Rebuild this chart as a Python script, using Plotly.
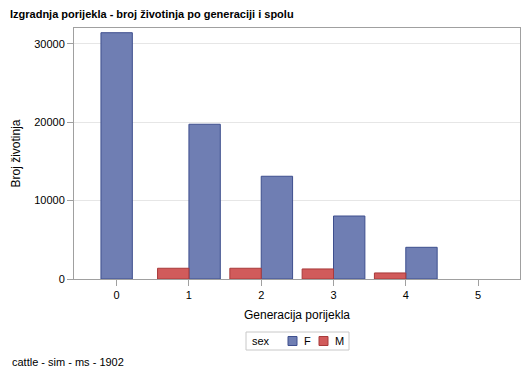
import plotly.graph_objects as go

generations = [0, 1, 2, 3, 4, 5]
female = [31400, 19730, 13100, 8030, 4040, None]
male = [None, 1370, 1370, 1280, 770, None]
sex_labels = ["F", "M"]

BAR_W = 0.434
F_FILL, F_EDGE = "#6F7EB3", "#3E4F8E"
M_FILL, M_EDGE = "#D15B5B", "#A83A3A"

# the page body has an 8px default margin; compensate so the picture lines up
OFF = 8
W, H = 529 - OFF, 378 - OFF
ML, MR, MT, MB = 74 - OFF, 9, 28 - OFF, 99
PW, PH = W - ML - MR, H - MT - MB


def px(x):  # window pixel -> paper fraction
    return (x - OFF - ML) / PW


def py(y):
    return (H - MB - (y - OFF)) / PH


def has(v):
    return v is not None


# cluster placement: M left, F right; if only one present it is centred
f_x, f_y, m_x, m_y = [], [], [], []
for g, f, m in zip(generations, female, male):
    both = has(f) and has(m)
    if has(f):
        f_x.append(g + (BAR_W / 2 if both else 0))
        f_y.append(f)
    if has(m):
        m_x.append(g - (BAR_W / 2 if both else 0))
        m_y.append(m)

fig = go.Figure()
fig.add_trace(go.Bar(x=f_x, y=f_y, name=sex_labels[0], width=BAR_W,
                     marker=dict(color=F_FILL, line=dict(color=F_EDGE, width=1))))
fig.add_trace(go.Bar(x=m_x, y=m_y, name=sex_labels[1], width=BAR_W,
                     marker=dict(color=M_FILL, line=dict(color=M_EDGE, width=1))))

axis_col = "#A0A0A0"
fig.update_layout(
    width=W, height=H,
    margin=dict(l=ML, r=MR, t=MT, b=MB, autoexpand=False),
    paper_bgcolor="white", plot_bgcolor="white",
    font=dict(family="Arial, Liberation Sans, sans-serif", size=11, color="#000"),
    barmode="overlay",
    showlegend=False,
    title=dict(text="<b>Izgradnja porijekla - broj životinja po generaciji i spolu</b>",
               xref="container", x=(10 - OFF) / W, xanchor="left",
               yref="container", y=1 - (14 - OFF) / H, yanchor="middle",
               font=dict(size=11, color="#000")),
    xaxis=dict(range=[-0.59, 5.58], tickmode="array", tickvals=generations,
               ticktext=[str(g) for g in generations],
               showgrid=False, zeroline=False,
               showline=True, linecolor=axis_col, linewidth=1, mirror=True,
               ticks="outside", ticklen=6, tickcolor=axis_col,
               title=dict(text="Generacija porijekla", standoff=10, font=dict(size=12))),
    yaxis=dict(range=[0, 32000], tickvals=[0, 10000, 20000, 30000],
               ticktext=["0", "10000", "20000", "30000"],
               showgrid=True, gridcolor="#E6E6E6", zeroline=False,
               showline=True, linecolor=axis_col, linewidth=1, mirror=True,
               ticks="outside", ticklen=6, tickcolor=axis_col,
               title=dict(text="Broj životinja", standoff=11, font=dict(size=12))),
)

# legend drawn as a box with swatches
LEG_CY = 341
fig.add_shape(type="rect", xref="paper", yref="paper",
              x0=px(246), x1=px(349), y0=py(332), y1=py(350),
              line=dict(color="#C8C8C8", width=1), fillcolor="white", layer="above")
fig.add_annotation(text="sex", xref="paper", yref="paper", x=px(250), y=py(LEG_CY),
                   xanchor="left", yanchor="middle", showarrow=False, font=dict(size=11))
for sx, lx, lab, fill, edge in [(288, 302, sex_labels[0], F_FILL, F_EDGE),
                                (319, 333, sex_labels[1], M_FILL, M_EDGE)]:
    fig.add_shape(type="rect", xref="paper", yref="paper",
                  x0=px(sx), x1=px(sx + 9), y0=py(LEG_CY - 4.5), y1=py(LEG_CY + 4.5),
                  line=dict(color=edge, width=1), fillcolor=fill, layer="above")
    fig.add_annotation(text=lab, xref="paper", yref="paper", x=px(lx), y=py(LEG_CY),
                       xanchor="left", yanchor="middle", showarrow=False, font=dict(size=11))

fig.add_annotation(text="cattle - sim - ms - 1902", xref="paper", yref="paper",
                   x=px(10), y=py(362), xanchor="left", yanchor="middle",
                   showarrow=False, font=dict(size=11, color="#000"))

fig.write_html("out.html")
